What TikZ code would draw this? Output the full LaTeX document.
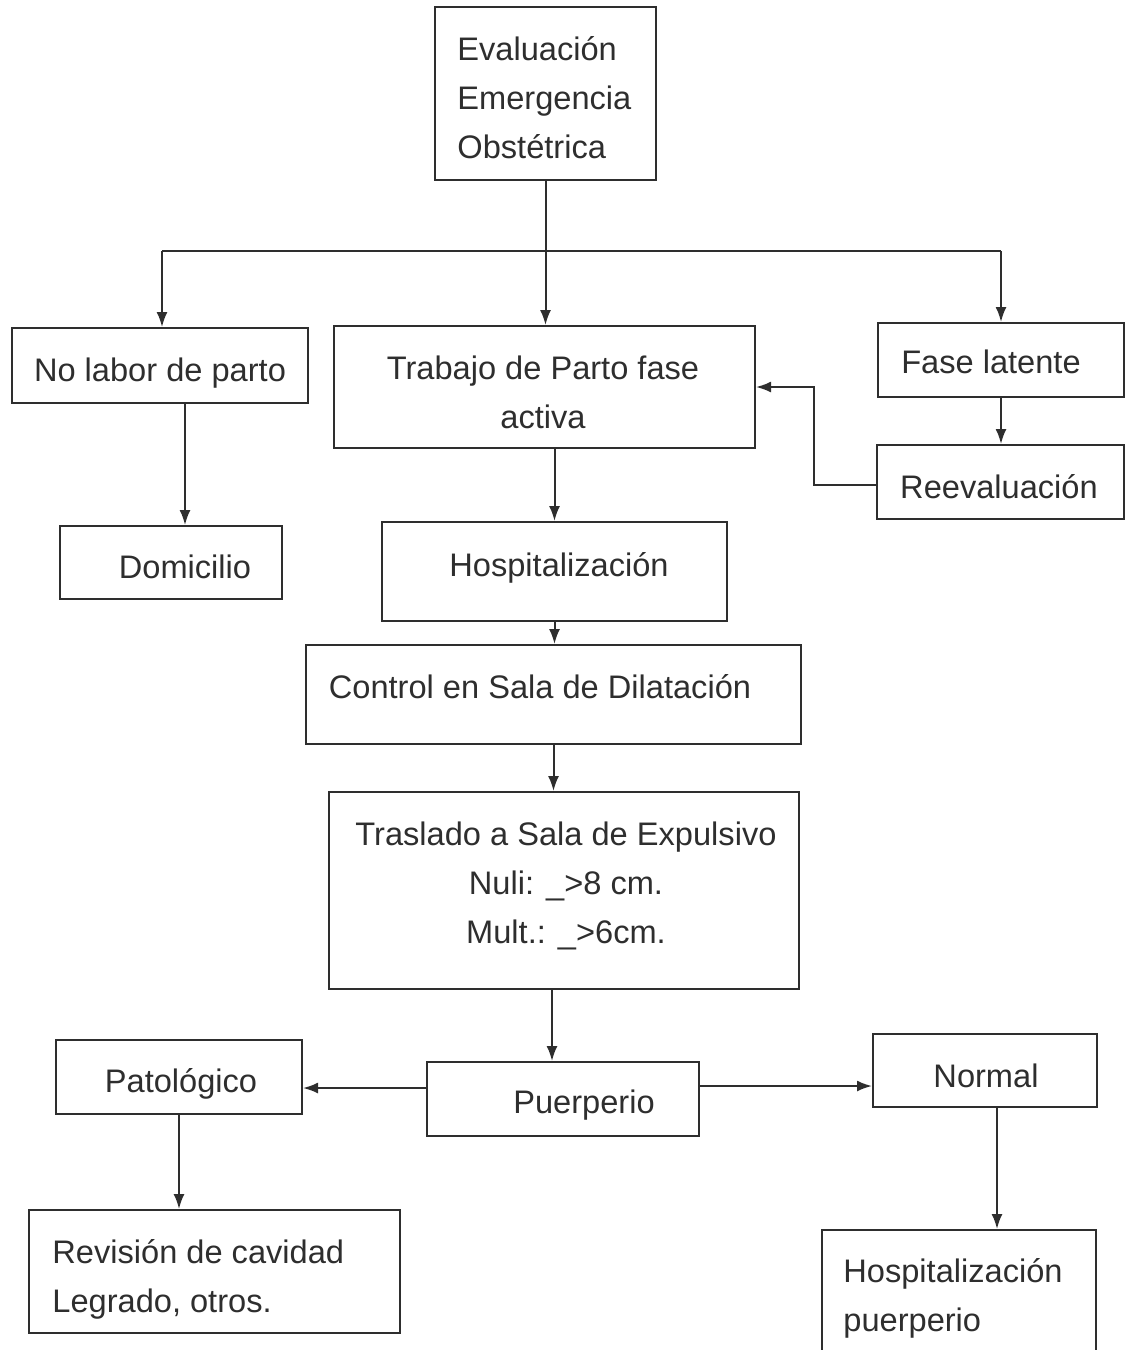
\documentclass[tikz,border=0pt]{standalone}
\usepackage{fontspec}
\setmainfont{Liberation Sans}
\usetikzlibrary{arrows.meta}
\definecolor{ink}{gray}{0.18}
\begin{document}
\begin{tikzpicture}[x=0.5pt,y=-0.5pt,
  box/.style={draw=ink, line width=1pt, rectangle, inner sep=0pt},
  txt/.style={text=ink, font=\fontsize{16.3pt}{24.5pt}\selectfont, inner sep=0pt, anchor=base},
  txtl/.style={txt, anchor=base west, align=left},
  txtc/.style={txt, align=center},
  arr/.style={draw=ink, line width=1pt, -{Latex[length=7.5pt,width=5.5pt]}},
  link/.style={draw=ink, line width=1pt}]
\useasboundingbox (0,0) rectangle (1127,1350);
\clip (0,0) rectangle (1127,1350);

% boxes
\node[box, minimum width=110.5pt, minimum height=86.5pt] (eval)      at (545.5,93.5)  {};
\node[box, minimum width=148pt,   minimum height=37.5pt] (nolabor)   at (160,365.5)   {};
\node[box, minimum width=210.5pt, minimum height=61pt]   (trabajo)   at (544.5,387)   {};
\node[box, minimum width=123pt,   minimum height=37pt]   (latente)   at (1001,360)    {};
\node[box, minimum width=123.5pt, minimum height=37pt]   (reeval)    at (1000.5,482)  {};
\node[box, minimum width=111pt,   minimum height=36.5pt] (domicilio) at (171,562.5)   {};
\node[box, minimum width=172.5pt, minimum height=49.5pt] (hosp)      at (554.5,571.5) {};
\node[box, minimum width=247.5pt, minimum height=49.5pt] (control)   at (553.5,694.5) {};
\node[box, minimum width=235pt,   minimum height=98.5pt] (traslado)  at (564,890.5)   {};
\node[box, minimum width=136pt,   minimum height=37pt]   (puerperio) at (563,1099)    {};
\node[box, minimum width=123pt,   minimum height=37pt]   (patol)     at (179,1077)    {};
\node[box, minimum width=112pt,   minimum height=36.5pt] (normal)    at (985,1070.5)  {};
\node[box, minimum width=185.5pt, minimum height=61.5pt] (revision)  at (214.5,1271.5){};
\node[box, minimum width=137pt,   minimum height=75pt]   (hosppuer)  at (959,1305)    {};

% texts (multi-line texts are placed by the baseline of their last line)
\node[txtl] (evalT) at (457,158) {Evaluación\\Emergencia\\Obstétrica};
\node[txtc] (nolaborT) at (160,381) {No labor de parto};
\node[txtc] (trabajoT) at (543,428) {Trabajo de Parto fase\\activa};
\node[txtc] (latenteT) at (991,373) {Fase latente};
\node[txtc] (reevalT) at (999,498) {Reevaluación};
\node[txtc] (domicilioT) at (185,578) {Domicilio};
\node[txtc] (hospT) at (559,576) {Hospitalización};
\node[txtc] (controlT) at (540,698) {Control en Sala de Dilatación};
\node[txtc] (trasladoT) at (566,943) {Traslado a Sala de Expulsivo\\Nuli: \_>8 cm.\\Mult.: \_>6cm.};
\node[txtc] (puerperioT) at (584,1113) {Puerperio};
\node[txtc] (patolT) at (181,1092) {Patológico};
\node[txtc] (normalT) at (986,1087) {Normal};
\node[txtl] (revisionT) at (52,1312) {Revisión de cavidad\\Legrado, otros.};
\node[txtl] (hosppuerT) at (843,1331) {Hospitalización\\puerperio};

% connectors
\coordinate (bus) at (545,251);
\draw[arr] (eval.south) -- (eval.south |- trabajo.north);
\draw[link] ([xshift=1pt]nolabor.north |- bus) -- (latente.north |- bus);
\draw[arr] ([xshift=1pt]nolabor.north |- bus) -- ([xshift=1pt]nolabor.north);
\draw[arr] (latente.north |- bus) -- (latente.north);
\draw[arr] ([xshift=12.5pt]nolabor.south) -- ([xshift=12.5pt]nolabor.south |- domicilio.north);
\draw[arr] (hosp.north |- trabajo.south) -- (hosp.north);
\draw[arr] (latente.south) -- (latente.south |- reeval.north);
\draw[arr] ([yshift=-1.5pt]reeval.west) -- ++(-62,0) |- (trabajo.east);
\draw[arr] (hosp.south) -- (hosp.south |- control.north);
\draw[arr] (control.south) -- (control.south |- traslado.north);
\draw[arr] ([xshift=-6pt]traslado.south) -- ([xshift=-6pt]traslado.south |- puerperio.north);
\draw[arr] ([yshift=5.5pt]puerperio.west) -- ([yshift=5.5pt]puerperio.west -| patol.east);
\draw[arr] ([yshift=6.5pt]puerperio.east) -- ([yshift=6.5pt]puerperio.east -| normal.west);
\draw[arr] (patol.south) -- (patol.south |- revision.north);
\draw[arr] ([xshift=6pt]normal.south) -- ([xshift=6pt]normal.south |- hosppuer.north);
\end{tikzpicture}
\end{document}
